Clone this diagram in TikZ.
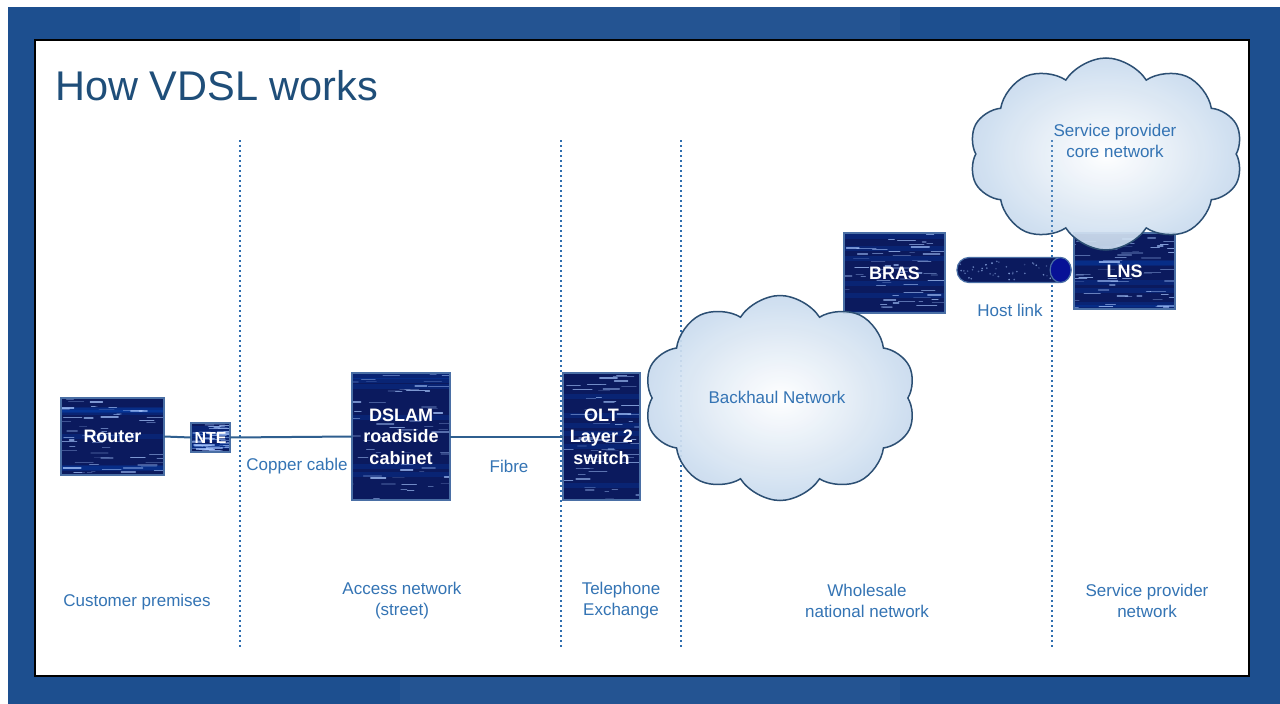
\documentclass[tikz,border=0pt]{standalone}
\usepackage{fontspec}
\setmainfont{Liberation Sans}
\usetikzlibrary{shapes.symbols,shapes.geometric,calc}
\definecolor{bgblue}{HTML}{1D4F8F}
\definecolor{titleblue}{HTML}{1F4E79}
\definecolor{dotblue}{HTML}{2E6DAE}
\definecolor{lblblue}{HTML}{3474B4}
\definecolor{navy}{HTML}{0B1A5E}
\definecolor{boxedge}{HTML}{4A6FA5}
\definecolor{linkline}{HTML}{2F5F8F}
\definecolor{cloudedge}{HTML}{2C4F73}
\definecolor{cloudouter}{HTML}{C9DBEE}
\definecolor{streak}{HTML}{A9C8FF}
\tikzset{
  txbox/.style 2 args={draw=boxedge, line width=1.5pt, fill=navy, inner sep=0pt, outer sep=0pt,
    minimum width=#1, minimum height=#2, text=white, align=center,
    font=\fontsize{18}{21.5}\selectfont\bfseries,
    path picture={
      \foreach \k in {1,...,6}{
        \pgfmathsetmacro\dy{(rnd-0.5)*#2}
        \fill[blue!60!cyan, opacity=0.14]
          ([shift={(-#1,\dy)}]path picture bounding box.center) rectangle ++(2*#1,5);
      }
      \foreach \k in {1,...,60}{
        \pgfmathsetmacro\dx{(rnd-0.55)*#1}
        \pgfmathsetmacro\dy{(rnd-0.5)*#2}
        \pgfmathsetmacro\ln{3+rnd*18}
        \pgfmathsetmacro\op{0.15+rnd*0.6}
        \draw[line width=1.3pt, streak, opacity=\op, line cap=round]
          ([shift={(\dx,\dy)}]path picture bounding box.center) -- ++(\ln,0);
      }
    }},
  divider/.style={dotblue, line width=2.2pt, dash pattern=on 2.4pt off 2.6pt},
  conn/.style={linkline, line width=2pt},
  lbl/.style={text=lblblue, font=\fontsize{17}{21}\selectfont, align=center, inner sep=0pt},
  netcloud/.style={cloud, cloud puffs=10, cloud puff arc=115, aspect=1.35, draw=cloudedge,
    line width=1.5pt, inner sep=0pt, inner color=white, outer color=cloudouter, fill opacity=0.92}
}
\begin{document}
\begin{tikzpicture}[x=1pt,y=-1pt]
\useasboundingbox (0,0) rectangle (1280,704);
% background
\fill[white] (0,0) rectangle (1280,704);
\fill[bgblue] (8,7) rectangle (1280,704);
\fill[white, opacity=0.03] (300,7) rectangle (900,40);
\fill[white, opacity=0.03] (400,677) rectangle (900,704);
\node[draw=black, line width=2pt, fill=white, inner sep=0pt, minimum width=1214pt, minimum height=636pt] (panel) at (642,358) {};
% title
\node[anchor=base west, inner sep=0pt, text=titleblue, font=\fontsize{41.5}{48}\selectfont] (title) at (55,100) {How VDSL works};
% dividers
\coordinate (d1t) at (240,140); \coordinate (d1b) at (240,648);
\coordinate (d2t) at (561,140); \coordinate (d2b) at (561,648);
\coordinate (d3t) at (681,140); \coordinate (d3b) at (681,648);
\coordinate (d4t) at (1052,140); \coordinate (d4b) at (1052,648);
\coordinate (d4m) at (1052,252);
\draw[divider] (d1t) -- (d1b);
\draw[divider] (d2t) -- (d2b);
\draw[divider] (d3t) -- (d3b);
\draw[divider] (d4t) -- (d4b);
% boxes
\pgfmathsetseed{7}
\node[txbox={103}{77}] (router) at (112.5,436.5) {Router};
\node[txbox={39}{29}, font=\fontsize{16}{20}\selectfont\bfseries] (nte) at (210.5,437.5) {NTE};
\node[txbox={98}{127}] (dslam) at (401,436.5) {DSLAM\\roadside\\cabinet};
\node[txbox={77}{127}] (olt) at (601.5,436.5) {OLT\\Layer 2\\switch};
\node[txbox={101}{80}] (bras) at (894.5,273) {BRAS};
\node[txbox={101}{76}] (lns) at (1124.5,271) {LNS};
% connectors
\draw[conn] (router.east) -- (nte.west);
\draw[conn] (nte.east) -- (dslam.west);
\draw[conn] (dslam.east) -- (olt.west);
% host link (cylinder)
\node[draw=boxedge, line width=1.2pt, fill=navy, rounded corners=12pt, inner sep=0pt,
  minimum width=114pt, minimum height=25pt,
  path picture={
    \foreach \k in {1,...,45}{
      \pgfmathsetmacro\dx{(rnd-0.6)*100}
      \pgfmathsetmacro\dy{(rnd-0.5)*20}
      \pgfmathsetmacro\op{0.2+rnd*0.6}
      \fill[streak, opacity=\op] ([shift={(\dx,\dy)}]path picture bounding box.center) circle (0.9pt);
    }}] (hostlink) at (1014,270) {};
\draw[boxedge, line width=1.2pt, fill=navy!65!blue] ([xshift=-11pt]hostlink.east) ellipse (10.5pt and 12.5pt);
% clouds
\node[netcloud, minimum width=272pt, minimum height=205pt] (backhaul) at (780,398) {};
\node[netcloud, minimum width=274pt, minimum height=192pt] (spcore) at (1106,154) {};
\draw[divider, opacity=0.8] (d4t) -- (d4m);
% labels
\node[lbl] (copper) at (297,466) {Copper cable};
\node[lbl] (fibre) at (509,466) {Fibre};
\node[lbl] (bhlbl) at (777,397) {Backhaul Network};
\node[lbl] (splbl) at (1115,141) {Service provider\\core network};
\node[lbl] (hostlbl) at (1010,310) {Host link};
\node[lbl] (z1) at (137,602) {Customer premises};
\node[lbl] (z2) at (402,601) {Access network\\(street)};
\node[lbl] (z3) at (621,601) {Telephone\\Exchange};
\node[lbl] (z4) at (867,601) {Wholesale\\national network};
\node[lbl] (z5) at (1147,601) {Service provider\\network};
\end{tikzpicture}
\end{document}
